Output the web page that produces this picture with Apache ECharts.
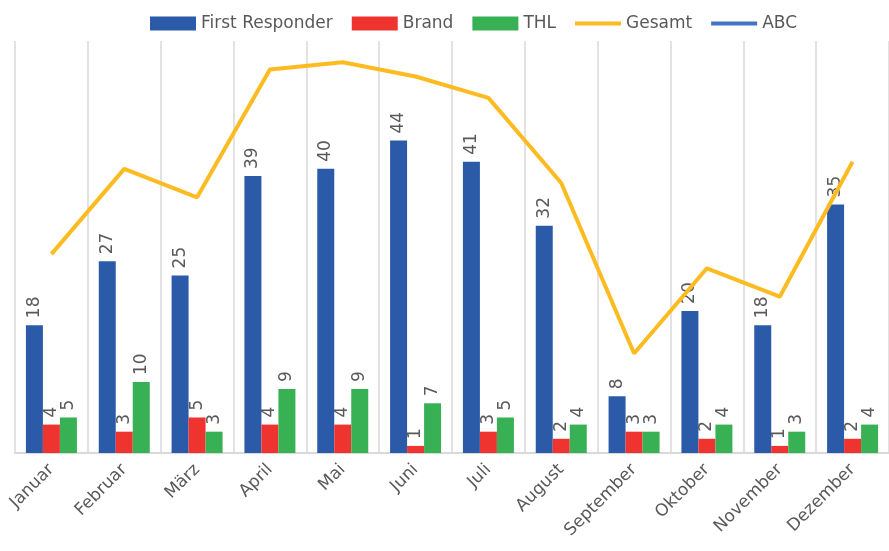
<!DOCTYPE html>
<html>
<head>
    <meta charset="utf-8">
    <title>Einsätze pro Monat</title>
    <script src="https://cdn.jsdelivr.net/npm/echarts@6/dist/echarts.min.js"></script>
    <style>
        html, body { margin: 0; padding: 0; background: #fff; }
        #main { width: 889px; height: 551px; }
    </style>
</head>
<body>
    <div id="main"></div>
    <script type="text/javascript">
        // Daten
        var months = ['Januar', 'Februar', 'März', 'April', 'Mai', 'Juni', 'Juli', 'August', 'September', 'Oktober', 'November', 'Dezember'];
        var firstResponder = [18, 27, 25, 39, 40, 44, 41, 32, 8, 20, 18, 35];
        var brand = [4, 3, 5, 4, 4, 1, 3, 2, 3, 2, 1, 2];
        var thl = [5, 10, 3, 9, 9, 7, 5, 4, 3, 4, 3, 4];
        var gesamt = [28, 40, 36, 54, 55, 53, 50, 38, 14, 26, 22, 41];
        var abc = []; // keine Werte sichtbar

        var textColor = '#595959';
        var fontFam = '"DejaVu Sans", sans-serif';
        var lineIcon = 'path://M0,0 L46,0 L46,4 L0,4 Z';

        var barLabel = {
            show: true,
            position: 'top',
            rotate: 90,
            align: 'left',
            verticalAlign: 'middle',
            distance: 7,
            color: textColor,
            fontSize: 17,
            fontFamily: fontFam
        };

        var myChart = echarts.init(document.getElementById('main'));

        var option = {
            animation: false,
            textStyle: { fontFamily: fontFam },
            legend: {
                top: 10,
                left: 145,
                itemWidth: 46,
                itemHeight: 14,
                itemGap: 19,
                textStyle: { color: textColor, fontSize: 17, fontFamily: fontFam },
                data: [
                    { name: 'First Responder', icon: 'rect' },
                    { name: 'Brand', icon: 'rect' },
                    { name: 'THL', icon: 'rect' },
                    { name: 'Gesamt', icon: lineIcon },
                    { name: 'ABC', icon: lineIcon }
                ]
            },
            grid: {
                left: 15,
                top: 41,
                width: 881,
                bottom: 98,
                containLabel: false
            },
            xAxis: {
                type: 'category',
                data: months,
                axisLine: { lineStyle: { color: '#d9d9d9', width: 2 } },
                axisTick: { show: false },
                splitLine: { show: true, lineStyle: { color: '#d9d9d9', width: 1.5 } },
                axisLabel: {
                    rotate: 45,
                    interval: 0,
                    color: textColor,
                    fontSize: 17,
                    fontFamily: fontFam,
                    margin: 14
                }
            },
            yAxis: {
                type: 'value',
                min: 0,
                max: 58,
                show: false,
                splitLine: { show: false }
            },
            series: [{
                name: 'First Responder',
                type: 'bar',
                barWidth: 17,
                barGap: '0%',
                itemStyle: { color: '#2B5BA8' },
                label: barLabel,
                data: firstResponder
            }, {
                name: 'Brand',
                type: 'bar',
                barWidth: 17,
                barGap: '0%',
                itemStyle: { color: '#EF3430' },
                label: barLabel,
                data: brand
            }, {
                name: 'THL',
                type: 'bar',
                barWidth: 17,
                barGap: '0%',
                itemStyle: { color: '#38B054' },
                label: barLabel,
                data: thl
            }, {
                name: 'Gesamt',
                type: 'line',
                showSymbol: false,
                symbol: 'none',
                itemStyle: { color: '#FDBB22' },
                lineStyle: { color: '#FDBB22', width: 4 },
                data: gesamt
            }, {
                name: 'ABC',
                type: 'line',
                showSymbol: false,
                symbol: 'none',
                itemStyle: { color: '#4472C4' },
                lineStyle: { color: '#4472C4', width: 4 },
                data: abc
            }]
        };

        myChart.setOption(option);
        window.onresize = myChart.resize;
    </script>
</body>
</html>
